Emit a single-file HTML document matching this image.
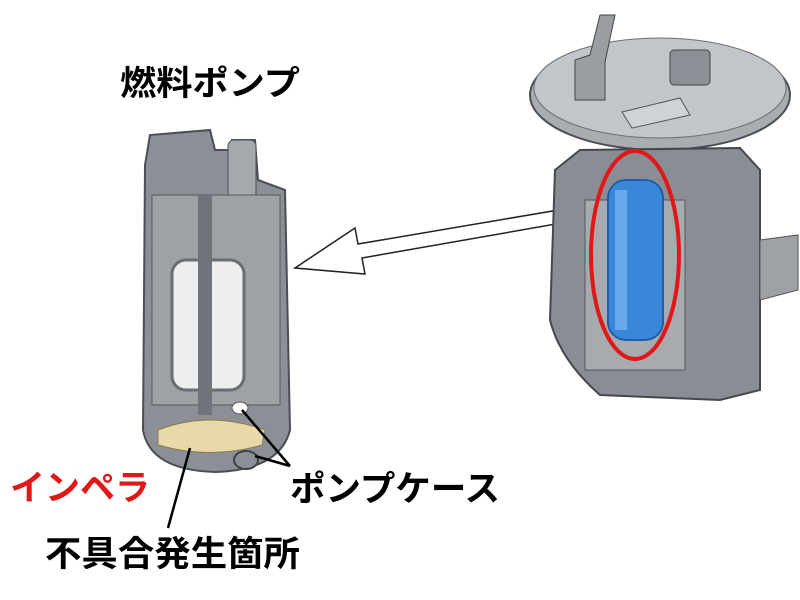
<!DOCTYPE html>
<html><head><meta charset="utf-8"><style>
body{margin:0;background:#fff;width:800px;height:600px;overflow:hidden}
svg{display:block}
text{font-family:"Liberation Sans","Noto Sans CJK JP",sans-serif;font-weight:bold}
</style></head><body>
<svg width="800" height="600" viewBox="0 0 800 600">
<text x="120" y="95" font-size="34" textLength="180" lengthAdjust="spacingAndGlyphs" fill="#000">燃料ポンプ</text>

<g>
<path d="M145 165 L150 135 L210 130 L215 150 L230 150 L232 140 L255 140 L258 180 L285 190 L290 430 Q280 470 215 472 Q150 470 143 430 Z" fill="#8c9096" stroke="#4a4e55" stroke-width="2"/>
<rect x="228" y="140" width="28" height="60" rx="6" fill="#a5a9ae" stroke="#4a4e55"/>
<rect x="152" y="195" width="128" height="210" fill="#9ea2a7" stroke="#55595f"/>
<rect x="172" y="260" width="72" height="130" rx="14" fill="#eceeef" stroke="#6a6e74" stroke-width="3"/>
<rect x="198" y="195" width="14" height="220" fill="#6f737a"/>
<path d="M158 430 Q210 410 265 430 L262 445 Q210 460 158 445 Z" fill="#e8d9a8" stroke="#8c7a4a"/>
<ellipse cx="246" cy="460" rx="12" ry="9" fill="#8c9096" stroke="#3d4146" stroke-width="2"/>
<ellipse cx="240" cy="408" rx="8" ry="6" fill="#fff" stroke="#555"/>
</g>

<path d="M295 268 L355 228 L358 244 L588 205 L590 218 L362 258 L365 274 Z" fill="#fff" stroke="#222" stroke-width="1.5"/>

<g>
<ellipse cx="660" cy="95" rx="130" ry="55" fill="#a9adb2" stroke="#4a4e55" stroke-width="2"/>
<ellipse cx="660" cy="88" rx="126" ry="50" fill="#c2c5c9" stroke="#6a6e74"/>
<rect x="670" y="50" width="40" height="35" rx="4" fill="#8c9096" stroke="#444"/>
<path d="M575 100 L575 60 L590 55 L600 15 L615 15 L605 62 L605 100 Z" fill="#9a9ea3" stroke="#444"/>
<path d="M622 112 L680 98 L690 115 L632 128 Z" fill="#d0d3d6" stroke="#555"/>
<path d="M555 170 L580 150 L740 148 L760 170 L760 390 L720 400 L600 395 Q560 360 550 320 Z" fill="#8a8e94" stroke="#44484e" stroke-width="2"/>
<path d="M760 240 L798 235 L798 290 L760 300 Z" fill="#9ea2a7" stroke="#555"/>
<rect x="585" y="200" width="100" height="170" fill="#a7abb0" stroke="#55595f"/>
<rect x="608" y="180" width="55" height="160" rx="18" fill="#3a86d8" stroke="#1f5fa8" stroke-width="2"/>
<rect x="615" y="190" width="12" height="140" fill="#6aa8ec"/>
<ellipse cx="635" cy="255" rx="44" ry="104" fill="none" stroke="#e01818" stroke-width="4"/>
</g>

<g stroke="#000" stroke-width="2.5" fill="none">
<line x1="290" y1="466" x2="242" y2="410"/>
<line x1="290" y1="466" x2="255" y2="456"/>
<line x1="168" y1="528" x2="190" y2="448"/>
</g>

<text x="10" y="500" font-size="35" textLength="140" lengthAdjust="spacingAndGlyphs" fill="#e01818">インペラ</text>
<text x="290" y="501" font-size="35" textLength="210" lengthAdjust="spacingAndGlyphs" fill="#000">ポンプケース</text>
<text x="45" y="566" font-size="35" textLength="255" lengthAdjust="spacingAndGlyphs" fill="#000">不具合発生箇所</text>
</svg>
</body></html>
